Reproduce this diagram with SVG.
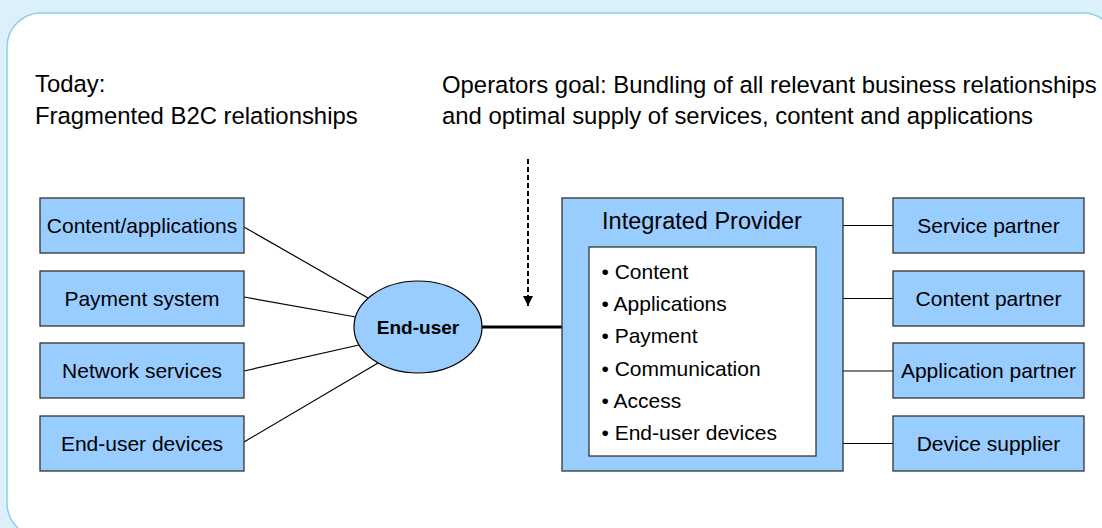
<svg xmlns="http://www.w3.org/2000/svg" width="1102" height="528" viewBox="0 0 1102 528">
<defs>
<style>
text{font-family:"Liberation Sans",Arial,sans-serif;fill:#000}
.box{fill:#99ccff;stroke:#333;stroke-width:1.3}
.lbl{font-size:21px;text-anchor:middle}
.title{font-size:23.9px}
.conn{stroke:#000;stroke-width:1.2;fill:none}
</style>
<marker id="ah" viewBox="0 0 10 10" refX="10" refY="5" markerWidth="5" markerHeight="5" markerUnits="strokeWidth" orient="auto">
<path d="M0,0 L10,5 L0,10 z" fill="#000"/>
</marker>
</defs>
<rect x="0" y="0" width="1102" height="528" fill="#dcf0f9"/>
<rect x="7" y="13" width="1110" height="524" rx="34" ry="34" fill="#fff" stroke="#8ecfe6" stroke-width="1.5"/>
<g id="titles">
<text class="title" x="35" y="92">Today:</text>
<text class="title" x="35" y="124">Fragmented B2C relationships</text>
<text class="title" x="442" y="93">Operators goal: Bundling of all relevant business relationships</text>
<text class="title" x="442" y="124">and optimal supply of services, content and applications</text>
</g>
<g id="connectors">
<line class="conn" x1="244" y1="227" x2="368" y2="298"/>
<line class="conn" x1="244" y1="297" x2="356" y2="317"/>
<line class="conn" x1="244" y1="371" x2="359" y2="345"/>
<line class="conn" x1="244" y1="442" x2="378" y2="363"/>
<line x1="482" y1="327" x2="562" y2="327" stroke="#000" stroke-width="3"/>
<line x1="843" y1="225.5" x2="893" y2="225.5" class="conn"/>
<line x1="843" y1="298.5" x2="893" y2="298.5" class="conn"/>
<line x1="843" y1="371" x2="893" y2="371" class="conn"/>
<line x1="843" y1="443.5" x2="893" y2="443.5" class="conn"/>
<line x1="528" y1="159" x2="528" y2="306" stroke="#000" stroke-width="2" stroke-dasharray="5,3" marker-end="url(#ah)"/>
</g>
<g id="content-applications"><rect class="box" x="40" y="198" width="204" height="55"/><text class="lbl" x="142" y="233">Content/applications</text></g>
<g id="payment-system"><rect class="box" x="40" y="271" width="204" height="55"/><text class="lbl" x="142" y="306">Payment system</text></g>
<g id="network-services"><rect class="box" x="40" y="343" width="204" height="55"/><text class="lbl" x="142" y="378">Network services</text></g>
<g id="end-user-devices"><rect class="box" x="40" y="416" width="204" height="55"/><text class="lbl" x="142" y="451">End-user devices</text></g>
<g id="end-user"><ellipse cx="418" cy="327" rx="64" ry="46" fill="#99ccff" stroke="#000" stroke-width="1.2"/><text x="418" y="334" font-size="19" font-weight="bold" text-anchor="middle">End-user</text></g>
<g id="integrated-provider">
<rect class="box" x="562" y="198" width="281" height="273"/>
<text x="702" y="229" font-size="23.5" text-anchor="middle">Integrated Provider</text>
<rect x="589" y="247" width="227" height="209" fill="#fff" stroke="#333" stroke-width="1.3"/>
<text font-size="21"><tspan x="601.5" y="279">• Content</tspan><tspan x="601.5" y="311">• Applications</tspan><tspan x="601.5" y="343">• Payment</tspan><tspan x="601.5" y="376">• Communication</tspan><tspan x="601.5" y="408">• Access</tspan><tspan x="601.5" y="440">• End-user devices</tspan></text>
</g>
<g id="service-partner"><rect class="box" x="893" y="198" width="191" height="55"/><text class="lbl" x="988.5" y="233">Service partner</text></g>
<g id="content-partner"><rect class="box" x="893" y="271" width="191" height="55"/><text class="lbl" x="988.5" y="306">Content partner</text></g>
<g id="application-partner"><rect class="box" x="893" y="343" width="191" height="55"/><text class="lbl" x="988.5" y="378">Application partner</text></g>
<g id="device-supplier"><rect class="box" x="893" y="416" width="191" height="55"/><text class="lbl" x="988.5" y="451">Device supplier</text></g>
</svg>
